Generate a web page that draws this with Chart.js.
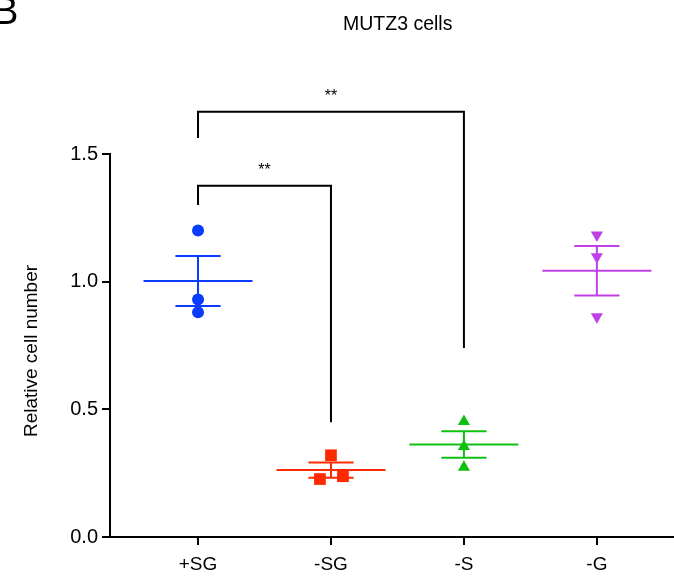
<!DOCTYPE html>
<html>
<head>
<meta charset="utf-8">
<script src="https://cdn.jsdelivr.net/npm/chart.js@4/dist/chart.umd.min.js"></script>
<style>
html,body{margin:0;padding:0;background:#fff;overflow:hidden;}
#wrap{width:674px;height:577px;position:relative;}
canvas{display:block;}
</style>
</head>
<body>
<div id="wrap"><canvas id="c" width="674" height="577"></canvas></div>
<script>
// ---- data ----
const categories = ['+SG', '-SG', '-S', '-G'];
const groupX = [1, 2, 3, 4];
const pointsSG = [1.20, 0.93, 0.88];
const pointsMinusSG = [0.32, 0.227, 0.238];
const pointsMinusS = [0.452, 0.354, 0.273];
const pointsMinusG = [1.183, 1.098, 0.863];
const jitterSG = [0, 0, 0];
const jitterMinusSG = [0, -0.083, 0.09];
const jitterMinusS = [0, 0, 0];
const jitterMinusG = [0, 0, 0];
const means = [1.003, 0.262, 0.362, 1.043];
const sems = [0.098, 0.030, 0.052, 0.097];
const yTicks = [0, 0.5, 1.0, 1.5];
const title = 'MUTZ3 cells';
const yTitle = 'Relative cell number';
const panelLetter = 'B';
// significance brackets: [fromGroup, toGroup, leftEnd, top, rightEnd, label]
const sig1 = [1, 2, 1.30, 1.376, 0.449, '**'];
const sig2 = [1, 3, 1.563, 1.665, 0.740, '**'];

const colors = ['#0a3cff', '#ff2a00', '#10c010', '#c040e8'];
const shapes = ['circle', 'rect', 'triangle', 'triangle'];
const radii = [6, 8.3, 7, 7];
const rotations = [0, 0, 0, 180];

const groups = [
  [pointsSG, jitterSG],
  [pointsMinusSG, jitterMinusSG],
  [pointsMinusS, jitterMinusS],
  [pointsMinusG, jitterMinusG]
];

const datasets = [];
const meanHalf = 0.41, capHalf = 0.17;
groups.forEach((g, i) => {
  const x = groupX[i];
  datasets.push({type: 'line', data: [{x: x - meanHalf, y: means[i]}, {x: x + meanHalf, y: means[i]}],
    borderColor: colors[i], borderWidth: 2, pointRadius: 0, fill: false, clip: false});
  datasets.push({type: 'line', data: [{x: x, y: means[i] - sems[i]}, {x: x, y: means[i] + sems[i]}],
    borderColor: colors[i], borderWidth: 2, pointRadius: 0, fill: false, clip: false});
  datasets.push({type: 'line', data: [{x: x - capHalf, y: means[i] + sems[i]}, {x: x + capHalf, y: means[i] + sems[i]}],
    borderColor: colors[i], borderWidth: 2, pointRadius: 0, fill: false, clip: false});
  datasets.push({type: 'line', data: [{x: x - capHalf, y: means[i] - sems[i]}, {x: x + capHalf, y: means[i] - sems[i]}],
    borderColor: colors[i], borderWidth: 2, pointRadius: 0, fill: false, clip: false});
  datasets.push({type: 'scatter', data: g[0].map((v, k) => ({x: x + g[1][k], y: v})),
    pointStyle: shapes[i], pointRadius: radii[i], pointRotation: rotations[i],
    backgroundColor: colors[i], borderColor: colors[i], borderWidth: 0, clip: false});
});
[sig1, sig2].forEach(s => {
  datasets.push({type: 'line', data: [
    {x: s[0], y: s[2]}, {x: s[0], y: s[3]}, {x: s[1], y: s[3]}, {x: s[1], y: s[4]}],
    borderColor: '#000', borderWidth: 2, pointRadius: 0, fill: false, clip: false, tension: 0,
    borderJoinStyle: 'miter'});
});

const FONT = '"Liberation Sans", Arial, Helvetica, sans-serif';

const extras = {
  id: 'extras',
  afterDraw(chart) {
    const ctx = chart.ctx;
    const xs = chart.scales.x, ys = chart.scales.y;
    ctx.save();
    ctx.fillStyle = '#000';
    ctx.textAlign = 'center';
    ctx.textBaseline = 'alphabetic';
    ctx.font = '16px ' + FONT;
    [sig1, sig2].forEach(s => {
      const px = xs.getPixelForValue((s[0] + s[1]) / 2);
      const py = ys.getPixelForValue(s[3]);
      ctx.fillText(s[5], px, py - 11);
    });
    ctx.textAlign = 'left';
    ctx.font = '19.5px ' + FONT;
    ctx.fillText(title, 343, 30);
    ctx.font = '38px ' + FONT;
    ctx.fillText(panelLetter, -7, 24);
    // y-axis title
    ctx.save();
    ctx.translate(32, 351);
    ctx.rotate(-Math.PI / 2);
    ctx.textAlign = 'center';
    ctx.textBaseline = 'middle';
    ctx.font = '19px ' + FONT;
    ctx.fillText(yTitle, 0, 0);
    ctx.restore();
    ctx.restore();
  }
};

new Chart(document.getElementById('c'), {
  data: {datasets},
  options: {
    responsive: false,
    animation: false,
    layout: {autoPadding: false, padding: {top: 154, right: 0, left: 0, bottom: 0}},
    plugins: {legend: {display: false}, tooltip: {enabled: false}, title: {display: false}},
    scales: {
      x: {
        type: 'linear', min: 0.338, max: 4.58,
        afterBuildTicks: (scale) => { scale.ticks = groupX.map(v => ({value: v})); },
        afterFit: (scale) => { scale.height = 40; },
        ticks: {
          callback: (v) => { const i = groupX.indexOf(v); return i >= 0 ? categories[i] : ''; },
          color: '#000', font: {size: 19, family: FONT}, padding: 8, maxRotation: 0, autoSkip: false
        },
        grid: {display: true, drawOnChartArea: false, drawTicks: true, tickLength: 8, color: '#000', lineWidth: 2},
        border: {display: true, color: '#000', width: 2}
      },
      y: {
        type: 'linear', min: 0, max: 1.5,
        afterBuildTicks: (scale) => { scale.ticks = yTicks.map(v => ({value: v})); },
        afterFit: (scale) => { scale.width = 110; },
        ticks: {
          callback: (v) => v.toFixed(1),
          color: '#000', font: {size: 20, family: FONT}, padding: 4
        },
        grid: {display: true, drawOnChartArea: false, drawTicks: true, tickLength: 8, color: '#000', lineWidth: 2},
        border: {display: true, color: '#000', width: 2},
        title: {display: false}
      }
    }
  },
  plugins: [extras]
});
</script>
</body>
</html>
